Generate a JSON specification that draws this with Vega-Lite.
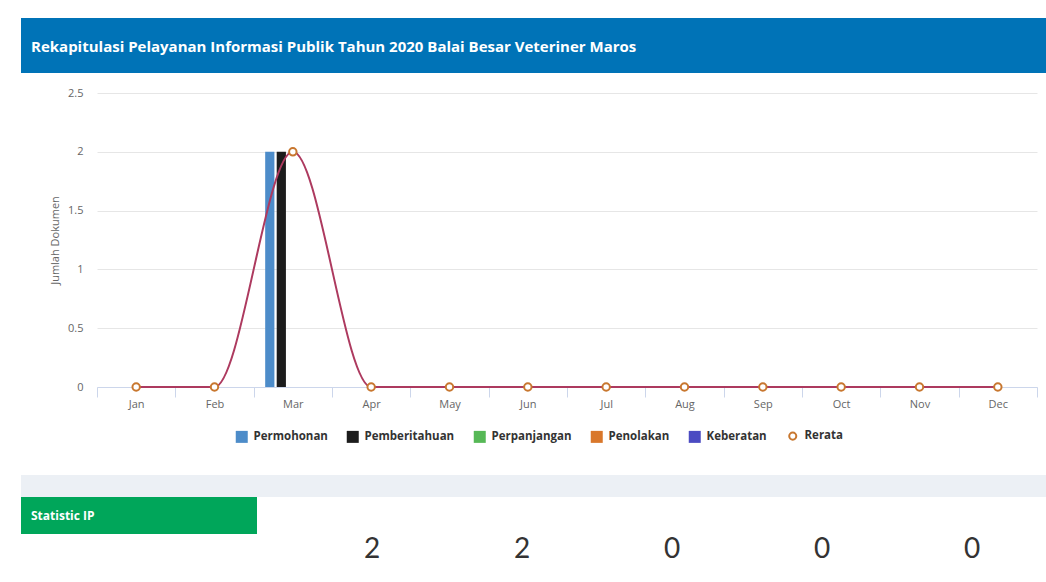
{
  "$schema": "https://vega.github.io/schema/vega-lite/v6.json",
  "background": "white",
  "padding": {"left": 21, "top": 18, "right": 0, "bottom": 0},
  "spacing": 0,
  "resolve": {"scale": {"color": "independent"}, "legend": {"color": "independent"}},
  "config": {
    "font": "Open Sans",
    "view": {"stroke": null}
  },
  "datasets": {
    "bulanan": [
      {"bulan": "Jan", "Permohonan": 0, "Pemberitahuan": 0, "Perpanjangan": 0, "Penolakan": 0, "Keberatan": 0, "Rerata": 0},
      {"bulan": "Feb", "Permohonan": 0, "Pemberitahuan": 0, "Perpanjangan": 0, "Penolakan": 0, "Keberatan": 0, "Rerata": 0},
      {"bulan": "Mar", "Permohonan": 2, "Pemberitahuan": 2, "Perpanjangan": 0, "Penolakan": 0, "Keberatan": 0, "Rerata": 2},
      {"bulan": "Apr", "Permohonan": 0, "Pemberitahuan": 0, "Perpanjangan": 0, "Penolakan": 0, "Keberatan": 0, "Rerata": 0},
      {"bulan": "May", "Permohonan": 0, "Pemberitahuan": 0, "Perpanjangan": 0, "Penolakan": 0, "Keberatan": 0, "Rerata": 0},
      {"bulan": "Jun", "Permohonan": 0, "Pemberitahuan": 0, "Perpanjangan": 0, "Penolakan": 0, "Keberatan": 0, "Rerata": 0},
      {"bulan": "Jul", "Permohonan": 0, "Pemberitahuan": 0, "Perpanjangan": 0, "Penolakan": 0, "Keberatan": 0, "Rerata": 0},
      {"bulan": "Aug", "Permohonan": 0, "Pemberitahuan": 0, "Perpanjangan": 0, "Penolakan": 0, "Keberatan": 0, "Rerata": 0},
      {"bulan": "Sep", "Permohonan": 0, "Pemberitahuan": 0, "Perpanjangan": 0, "Penolakan": 0, "Keberatan": 0, "Rerata": 0},
      {"bulan": "Oct", "Permohonan": 0, "Pemberitahuan": 0, "Perpanjangan": 0, "Penolakan": 0, "Keberatan": 0, "Rerata": 0},
      {"bulan": "Nov", "Permohonan": 0, "Pemberitahuan": 0, "Perpanjangan": 0, "Penolakan": 0, "Keberatan": 0, "Rerata": 0},
      {"bulan": "Dec", "Permohonan": 0, "Pemberitahuan": 0, "Perpanjangan": 0, "Penolakan": 0, "Keberatan": 0, "Rerata": 0}
    ],
    "ringkasan": [
      {"kategori": "Permohonan", "total": 2},
      {"kategori": "Pemberitahuan", "total": 2},
      {"kategori": "Perpanjangan", "total": 0},
      {"kategori": "Penolakan", "total": 0},
      {"kategori": "Keberatan", "total": 0}
    ]
  },
  "vconcat": [
    {
      "spacing": 31,
      "resolve": {"scale": {"color": "independent"}, "legend": {"color": "independent"}},
      "vconcat": [
        {
          "spacing": 14,
          "resolve": {"scale": {"color": "independent"}, "legend": {"color": "independent"}},
          "vconcat": [
            {
              "width": 1025,
              "height": 55,
              "view": {"fill": "#0073b7", "stroke": null},
              "title": {
                "text": "Rekapitulasi Pelayanan Informasi Publik Tahun 2020 Balai Besar Veteriner Maros",
                "anchor": "start", "orient": "top", "frame": "group",
                "offset": -44, "baseline": "middle", "dx": 10,
                "color": "white", "fontSize": 15, "fontWeight": "bold", "font": "Open Sans"
              },
              "data": {"values": [{}]},
              "mark": {"type": "text", "text": ""},
              "encoding": {}
            },
            {
              "spacing": 0,
              "resolve": {"scale": {"color": "independent"}, "legend": {"color": "independent"}},
              "hconcat": [
                {
                  "width": 28, "height": 1,
                  "data": {"values": [{}]},
                  "mark": {"type": "text", "text": ""},
                  "encoding": {}
                },
                {
                  "width": 940,
                  "height": 294,
                  "data": {"name": "bulanan"},
                  "encoding": {
                    "x": {
                      "field": "bulan", "type": "nominal",
                      "sort": ["Jan", "Feb", "Mar", "Apr", "May", "Jun", "Jul", "Aug", "Sep", "Oct", "Nov", "Dec"],
                      "scale": {"paddingInner": 0, "paddingOuter": 0},
                      "axis": {
                        "title": null, "labelAngle": 0, "tickBand": "extent",
                        "ticks": true, "tickSize": 10, "tickColor": "#ccd6eb",
                        "domainColor": "#ccd6eb", "labelColor": "#666666",
                        "labelFontSize": 11, "labelPadding": 1, "grid": false
                      }
                    }
                  },
                  "layer": [
                    {
                      "transform": [{"fold": ["Permohonan", "Pemberitahuan", "Perpanjangan", "Penolakan", "Keberatan"], "as": ["jenis", "jumlah"]}],
                      "mark": {"type": "bar"},
                      "encoding": {
                        "xOffset": {
                          "field": "jenis", "type": "nominal",
                          "sort": ["Permohonan", "Pemberitahuan", "Perpanjangan", "Penolakan", "Keberatan"],
                          "scale": {"paddingInner": 0.2, "paddingOuter": 1.77}
                        },
                        "y": {
                          "field": "jumlah", "type": "quantitative",
                          "scale": {"domain": [0, 2.5], "nice": false},
                          "axis": {
                            "title": "Jumlah Dokumen",
                            "values": [0, 0.5, 1, 1.5, 2, 2.5],
                            "format": "~f",
                            "grid": true, "gridColor": "#e6e6e6",
                            "domain": false, "ticks": false,
                            "labelPadding": 14, "labelColor": "#666666", "labelFontSize": 11,
                            "titleColor": "#666666", "titleFontSize": 11, "titleFontWeight": "normal",
                            "titlePadding": 7
                          }
                        },
                        "color": {
                          "field": "jenis", "type": "nominal",
                          "scale": {
                            "domain": ["Permohonan", "Pemberitahuan", "Perpanjangan", "Penolakan", "Keberatan", "Rerata"],
                            "range": ["#4d8cc9", "#1c1c1c", "#56b856", "#d9772b", "#4b4bc2", "#c8772f"]
                          },
                          "legend": {
                            "title": null, "orient": "none", "direction": "horizontal",
                            "legendX": 139, "legendY": 337,
                            "labelFontSize": 11.5, "labelFontWeight": "bold", "labelColor": "#333333",
                            "symbolSize": 144, "columnPadding": 18, "labelOffset": 6,
                            "encode": {
                              "symbols": {
                                "update": {
                                  "shape": {"signal": "datum.value === 'Rerata' ? 'circle' : 'square'"},
                                  "fillOpacity": {"signal": "datum.value === 'Rerata' ? 0 : 1"},
                                  "strokeWidth": {"signal": "datum.value === 'Rerata' ? 2 : 0"},
                                  "size": {"signal": "datum.value === 'Rerata' ? 50 : 144"},
                                  "opacity": {"value": 1}
                                }
                              }
                            }
                          }
                        }
                      }
                    },
                    {
                      "mark": {"type": "line", "interpolate": "monotone", "color": "#ad3a5f", "strokeWidth": 2},
                      "encoding": {
                        "y": {"field": "Rerata", "type": "quantitative", "title": "Jumlah Dokumen"}
                      }
                    },
                    {
                      "mark": {"type": "point", "filled": false, "fill": "white", "strokeWidth": 2, "size": 55, "opacity": 1},
                      "encoding": {
                        "y": {"field": "Rerata", "type": "quantitative", "title": "Jumlah Dokumen"},
                        "color": {"datum": "Rerata"}
                      }
                    }
                  ]
                }
              ]
            }
          ]
        },
        {
          "width": 1025,
          "height": 22,
          "view": {"fill": "#ecf0f5", "stroke": null},
          "data": {"values": [{}]},
          "mark": {"type": "text", "text": ""},
          "encoding": {}
        }
      ]
    },
    {
      "spacing": 40,
      "hconcat": [
        {
          "width": 236,
          "height": 37,
          "view": {"fill": "#00a65a", "stroke": null},
          "title": {
            "text": "Statistic IP",
            "anchor": "start", "orient": "top", "frame": "group",
            "offset": -31, "baseline": "middle", "dx": 10,
            "color": "white", "fontSize": 12, "fontWeight": "bold", "font": "Open Sans"
          },
          "data": {"values": [{}]},
          "mark": {"type": "text", "text": ""},
          "encoding": {}
        },
        {
          "width": 750,
          "height": 80,
          "data": {"name": "ringkasan"},
          "mark": {"type": "text", "fontSize": 28, "color": "#333333", "baseline": "middle", "dy": 13, "font": "Lato", "fontWeight": "normal"},
          "encoding": {
            "x": {
              "field": "kategori", "type": "nominal", "sort": null, "axis": null,
              "scale": {"type": "point", "padding": 0.5}
            },
            "text": {"field": "total", "type": "quantitative"}
          }
        }
      ]
    }
  ]
}
